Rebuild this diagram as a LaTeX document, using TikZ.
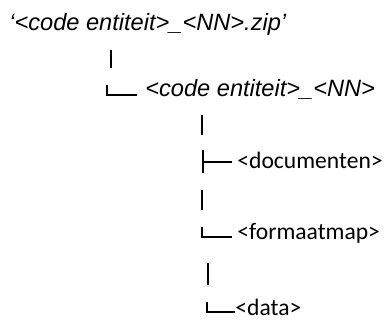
\documentclass[tikz,border=0pt]{standalone}
\usepackage{fontspec}
\usepackage{tikz}
\newfontfamily\arialfont{Liberation Sans}
\newfontfamily\calibrifont{Carlito}
\tikzset{
    rootlbl/.style={font=\arialfont\itshape\fontsize{11.8}{14}\selectfont,anchor=base west,inner sep=0pt},
    dirlbl/.style={font=\calibrifont\fontsize{11.8}{14}\selectfont,anchor=base west,inner sep=0pt},
    tree/.style={
        every edge/.style={draw,line width=0.6pt},
    },
    branch/.style={draw,line width=0.6pt},
}

\begin{document}
\begin{tikzpicture}[x=0.5pt,y=-0.5pt,tree]
    \useasboundingbox (0,0) rectangle (387,322);
    % folder names
    \node[rootlbl] (zip) at (9,30) {‘<code entiteit>\_<NN>.zip’};
    \node[rootlbl] (ent) at (145,96) {<code entiteit>\_<NN>};
    \node[dirlbl] (doc) at (237,168) {<documenten>};
    \node[dirlbl] (fmt) at (237,239) {<formaatmap>};
    \node[dirlbl] (dat) at (235,315) {<data>};
    % tree branches
    \coordinate (a1) at (111,50);  \coordinate (a2) at (111,68);
    \coordinate (b1) at (107,85);  \coordinate (b2) at (137,95);
    \coordinate (c1) at (202,115); \coordinate (c2) at (202,135);
    \coordinate (d1) at (203,150); \coordinate (d2) at (203,173);
    \coordinate (d3) at (203,162); \coordinate (d4) at (232,162);
    \coordinate (e1) at (202,190); \coordinate (e2) at (202,210);
    \coordinate (f1) at (202,227); \coordinate (f2) at (232,237);
    \coordinate (g1) at (208,263); \coordinate (g2) at (208,285);
    \coordinate (h1) at (207,302); \coordinate (h2) at (235,312);
    \path
        (a1) edge (a2)
        (c1) edge (c2)
        (d1) edge[line width=0.9pt] (d2)
        (d3) edge (d4)
        (e1) edge (e2)
        (g1) edge (g2)
    ;
    \draw[branch] (b1) |- (b2);
    \draw[branch] (f1) |- (f2);
    \draw[branch] (h1) |- (h2);
\end{tikzpicture}
\end{document}
